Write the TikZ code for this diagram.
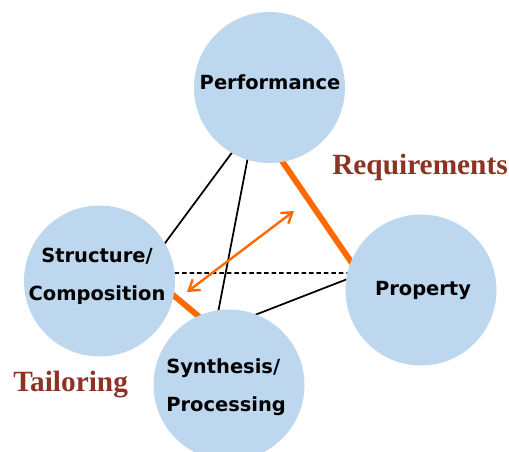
\documentclass[tikz,border=0pt]{standalone}
\usepackage{fontspec}
\usetikzlibrary{arrows.meta,backgrounds}
\newfontfamily\labelfont{DejaVu Sans}
\newfontfamily\titlefont{Liberation Serif}
\definecolor{bubble}{HTML}{BDD7EE}
\definecolor{accent}{HTML}{FF6A00}
\definecolor{rust}{HTML}{8C3323}

\begin{document}
\begin{tikzpicture}[x=0.75pt,y=-0.75pt,
  bubble/.style={circle,fill=bubble,draw=none,minimum size=113.25pt,inner sep=0pt,outer sep=0pt},
  caption/.style={font=\labelfont\bfseries\fontsize{14.6}{28.5}\selectfont,inner sep=0pt,text=black},
  side/.style={font=\titlefont\bfseries\fontsize{22}{26}\selectfont,text=rust,inner sep=0pt},
  link/.style={draw=black,line width=1.3pt,shorten <=-4pt,shorten >=-4pt},
  dashlink/.style={draw=black,line width=1.3pt,dash pattern=on 3.4pt off 2.2pt},
  strong/.style={draw=accent,line width=4.4pt,shorten <=-5pt,shorten >=-5pt},
  twoway/.style={draw=accent,line width=1.8pt,{Straight Barb[length=7.5pt,width=10pt]}-{Straight Barb[length=7.5pt,width=10pt]}}]
  \useasboundingbox (0,0) rectangle (509,452);
  \clip (0,0) rectangle (509,452);

  % the four aspects
  \node[bubble] (perf)   at (269.5,87.5) {};
  \node[bubble] (struct) at (99.5,281)   {};
  \node[bubble] (prop)   at (421,290)    {};
  \node[bubble] (synth)  at (229,385)    {};

  % relations, kept behind the circles
  \begin{pgfonlayer}{background}
    \draw[link] (perf.240) -- (struct.30);
    \draw[link] (perf.253) -- (synth.98);
    \draw[dashlink] (struct.6) -- (prop.167);
    \draw[link] (synth.69) -- (prop.172);
    \draw[strong] (perf.280) -- (prop.158);
    \draw[strong] (struct.-11) -- (synth.114);
  \end{pgfonlayer}

  % two-headed arrow across the middle
  \coordinate (arrA) at (187,292);
  \coordinate (arrB) at (294,211);
  \draw[twoway] (arrA) -- (arrB);

  % captions
  \node[caption,anchor=base] (perfT) at (270,90) {Performance};
  \node[caption,anchor=base] (propT) at (423,295) {Property};
  \node[caption,align=center] (structT) at (97,276) {Structure/\\Composition};
  \node[caption,align=left,anchor=west] (synthT) at (166,387) {Synthesis/\\Processing};

  \node[side,anchor=base west] (req)  at (332,175) {Requirements};
  \node[side,anchor=base west] (tail) at (13,391)  {Tailoring};
\end{tikzpicture}
\end{document}
